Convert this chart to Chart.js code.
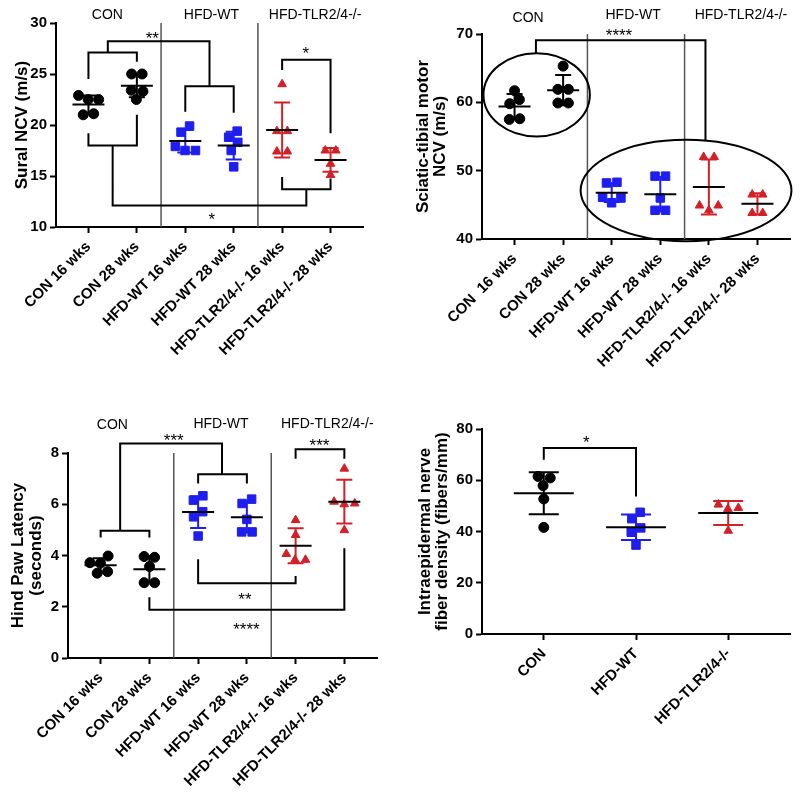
<!DOCTYPE html>
<html>
<head>
<meta charset="utf-8">
<script src="https://cdn.jsdelivr.net/npm/chart.js@4.4.1/dist/chart.umd.min.js"></script>
<style>
  html, body { margin: 0; padding: 0; background: #fff; }
  #wrap { position: relative; width: 800px; height: 798px; }
  canvas { position: absolute; }
</style>
</head>
<body>
<div id="wrap">
  <canvas id="sural" width="400" height="400" style="left:0;top:0;width:400px;height:400px"></canvas>
  <canvas id="sciatic" width="400" height="400" style="left:400px;top:0;width:400px;height:400px"></canvas>
  <canvas id="paw" width="400" height="398" style="left:0;top:400px;width:400px;height:398px"></canvas>
  <canvas id="fiber" width="400" height="398" style="left:400px;top:400px;width:400px;height:398px"></canvas>
</div>
<script>
const FONT = "'Liberation Sans', Arial, sans-serif";

// tick labels / categories
const weekGroups = ["CON 16 wks", "CON 28 wks", "HFD-WT 16 wks", "HFD-WT 28 wks", "HFD-TLR2/4-/- 16 wks", "HFD-TLR2/4-/- 28 wks"];
const weekGroupsSciatic = ["CON  16 wks", "CON 28 wks", "HFD-WT 16 wks", "HFD-WT 28 wks", "HFD-TLR2/4-/- 16 wks", "HFD-TLR2/4-/- 28 wks"];
const fiberGroups = ["CON", "HFD-WT", "HFD-TLR2/4-/-"];
const cohortNames = ["CON", "HFD-WT", "HFD-TLR2/4-/-"];

// values, one small array per group
const suralNCV = [
  [22.5, 22.9, 21.1, 21.0, 22.5],
  [25.0, 25.0, 23.4, 23.3, 22.5],
  [19.9, 19.3, 17.9, 17.5, 17.5],
  [18.8, 19.4, 18.3, 17.5, 15.9],
  [24.0, 19.4, 19.4, 17.4, 17.4],
  [17.5, 17.5, 16.2, 15.1]
];
const sciaticNCV = [
  [60.4, 61.7, 57.5, 57.6, 59.8],
  [65.3, 61.9, 61.9, 59.9, 59.9],
  [48.3, 48.2, 46.1, 46.0, 45.3],
  [49.2, 49.2, 46.0, 44.2, 44.2],
  [52.0, 52.0, 44.9, 44.9, 44.2],
  [46.5, 46.5, 43.8, 43.8]
];
const pawLatency = [
  [3.98, 3.72, 3.70, 3.31, 3.37],
  [3.93, 3.96, 3.57, 2.94, 2.94],
  [6.16, 6.33, 5.71, 5.51, 4.76],
  [6.03, 6.20, 5.41, 4.92, 4.92],
  [5.38, 4.80, 4.06, 3.83, 3.83],
  [7.39, 6.03, 6.00, 6.10, 4.99]
];
const fiberDensity = [
  [61.5, 60.9, 57.9, 52.7, 41.6],
  [47.5, 45.0, 41.4, 39.7, 34.7],
  [49.2, 48.8, 50.5, 40.3]
];

const BLACK = '#000000', BLUE = '#1e1ef0', RED = '#d41f26';
const sixColors = [BLACK, BLACK, BLUE, BLUE, RED, RED];
const sixShapes = ['circle', 'circle', 'rect', 'rect', 'triangle', 'triangle'];
const threeColors = [BLACK, BLUE, RED];
const threeShapes = ['circle', 'rect', 'triangle'];
const radiusFor = { circle: 5, rect: 6, triangle: 5 };

const mean = a => a.reduce((s, v) => s + v, 0) / a.length;
const sd = a => { const m = mean(a); return Math.sqrt(a.reduce((s, v) => s + (v - m) * (v - m), 0) / (a.length - 1)); };

// simple beeswarm: spread overlapping points sideways (in pixels), return offsets in x units
function swarm(vals, pxPerY, pxPerX, D) {
  const order = vals.map((v, i) => i).sort((a, b) => vals[a] - vals[b]);
  const placed = [];
  order.forEach(i => {
    const y = vals[i] * pxPerY;
    const cands = [0];
    placed.forEach(p => {
      const dy = Math.abs(p.y - y);
      if (dy < D) { const w = Math.sqrt(D * D - dy * dy); cands.push(p.x + w, p.x - w); }
    });
    cands.sort((a, b) => Math.abs(a) - Math.abs(b) || b - a);
    const x = cands.find(c => placed.every(p => Math.hypot(p.x - c, p.y - y) >= D - 1e-6));
    placed.push({ i, x, y });
  });
  // centre each touching cluster
  const parent = placed.map((p, k) => k);
  const find = k => parent[k] === k ? k : (parent[k] = find(parent[k]));
  placed.forEach((p, a) => placed.forEach((q, b) => {
    if (a < b && Math.hypot(p.x - q.x, p.y - q.y) < D + 0.5) parent[find(a)] = find(b);
  }));
  const sums = {};
  placed.forEach((p, k) => { const r = find(k); sums[r] = sums[r] || [0, 0]; sums[r][0] += p.x; sums[r][1]++; });
  const off = new Array(vals.length).fill(0);
  placed.forEach((p, k) => { const s = sums[find(k)]; off[p.i] = (p.x - s[0] / s[1]) / pxPerX; });
  return off;
}

const statsPlugin = {
  id: 'stats',
  beforeDatasetsDraw(chart, args, o) {
    const { ctx, scales: { x, y } } = chart;
    ctx.save();
    ctx.strokeStyle = '#555';
    ctx.lineWidth = 1.5;
    (o.separators || []).forEach(v => {
      const px = x.getPixelForValue(v);
      ctx.beginPath(); ctx.moveTo(px, y.top); ctx.lineTo(px, y.bottom); ctx.stroke();
    });
    ctx.restore();
  },
  afterDatasetsDraw(chart, args, o) {
    const { ctx, scales: { x, y } } = chart;
    ctx.save();
    ctx.lineWidth = 2;
    ctx.lineCap = 'butt';
    // mean and SD
    o.values.forEach((vals, i) => {
      const m = mean(vals), s = sd(vals);
      const cx = x.getPixelForValue(i);
      const yt = y.getPixelForValue(m + s), yb = y.getPixelForValue(m - s), ym = y.getPixelForValue(m);
      ctx.strokeStyle = o.colors[i];
      ctx.beginPath();
      ctx.moveTo(cx, yt); ctx.lineTo(cx, yb);
      ctx.moveTo(cx - o.capHalf, yt); ctx.lineTo(cx + o.capHalf, yt);
      ctx.moveTo(cx - o.capHalf, yb); ctx.lineTo(cx + o.capHalf, yb);
      ctx.stroke();
      ctx.strokeStyle = BLACK;
      ctx.beginPath(); ctx.moveTo(cx - o.meanHalf, ym); ctx.lineTo(cx + o.meanHalf, ym); ctx.stroke();
    });
    // significance brackets
    ctx.strokeStyle = BLACK;
    ctx.lineJoin = 'miter';
    (o.brackets || []).forEach(pts => {
      ctx.beginPath();
      pts.forEach(([vx, vy], k) => {
        const px = x.getPixelForValue(vx), py = y.getPixelForValue(vy);
        if (k === 0) ctx.moveTo(px, py); else ctx.lineTo(px, py);
      });
      ctx.stroke();
    });
    (o.ellipses || []).forEach(([ex, ey, rx, ry]) => {
      const cx = x.getPixelForValue(ex), cy = y.getPixelForValue(ey);
      const rpx = Math.abs(x.getPixelForValue(ex + rx) - cx), rpy = Math.abs(y.getPixelForValue(ey + ry) - cy);
      ctx.beginPath(); ctx.ellipse(cx, cy, rpx, rpy, 0, 0, Math.PI * 2); ctx.stroke();
    });
    ctx.fillStyle = BLACK;
    ctx.textAlign = 'center';
    ctx.font = '17px ' + FONT;
    ctx.textBaseline = 'alphabetic';
    (o.stars || []).forEach(([sx, sy, txt]) => {
      ctx.fillText(txt, x.getPixelForValue(sx), y.getPixelForValue(sy) + 0.57 * 17);
    });
    ctx.font = '14px ' + FONT;
    ctx.textBaseline = 'middle';
    (o.headers || []).forEach(([hx, hy, k]) => {
      ctx.fillText(cohortNames[k], x.getPixelForValue(hx), y.getPixelForValue(hy));
    });
    ctx.restore();
  }
};

function makeChart(id, cfg) {
  const canvas = document.getElementById(id);
  const W = canvas.width, H = canvas.height;
  const P = cfg.plot;
  const n = cfg.labels.length;
  const xmin = -0.67, xmax = n - 0.33;
  const pxPerX = (P.right - P.left) / (xmax - xmin);
  const pxPerY = (P.bottom - P.top) / (cfg.ymax - cfg.ymin);
  const datasets = cfg.values.map((vals, i) => {
    const shape = cfg.shapes[i];
    const off = swarm(vals, pxPerY, pxPerX, 10.5);
    return {
      data: vals.map((v, k) => ({ x: i + off[k], y: v })),
      pointStyle: shape,
      pointRadius: radiusFor[shape],
      pointHoverRadius: radiusFor[shape],
      backgroundColor: cfg.colors[i],
      borderColor: cfg.colors[i],
      borderWidth: 1
    };
  });
  const axisGrid = { display: true, drawOnChartArea: false, drawTicks: true, tickLength: 6, tickWidth: 2, tickColor: BLACK };
  const axisBorder = { display: true, color: BLACK, width: 2 };
  return new Chart(canvas, {
    type: 'scatter',
    data: { datasets },
    options: {
      responsive: false,
      animation: false,
      layout: { padding: { top: P.top, right: W - P.right, left: 0, bottom: 0 } },
      plugins: {
        legend: { display: false },
        tooltip: { enabled: false },
        stats: {
          values: cfg.values, colors: cfg.colors,
          separators: cfg.separators, brackets: cfg.brackets, stars: cfg.stars,
          headers: cfg.headers, ellipses: cfg.ellipses,
          meanHalf: cfg.meanHalf, capHalf: cfg.capHalf
        }
      },
      scales: {
        x: {
          type: 'linear', min: xmin, max: xmax,
          afterBuildTicks: s => { s.ticks = cfg.labels.map((_, i) => ({ value: i })); },
          afterFit: s => { s.height = H - P.bottom; },
          ticks: {
            callback: v => cfg.labels[v],
            minRotation: 45, maxRotation: 45, autoSkip: false,
            color: BLACK, padding: 5,
            font: { family: FONT, size: 15, weight: 'bold' }
          },
          grid: axisGrid, border: axisBorder
        },
        y: {
          min: cfg.ymin, max: cfg.ymax,
          afterFit: s => { s.width = P.left; },
          ticks: { stepSize: cfg.step, color: BLACK, padding: 3, font: { family: FONT, size: 15, weight: 'bold' } },
          title: {
            display: true, text: cfg.title, color: BLACK,
            font: { family: FONT, size: 17, weight: 'bold', lineHeight: 1.05 },
            padding: { top: cfg.titlePad, bottom: 0 }
          },
          grid: axisGrid, border: axisBorder
        }
      }
    },
    plugins: [statsPlugin]
  });
}

makeChart('sural', {
  plot: { left: 56, top: 23, right: 363, bottom: 227 },
  labels: weekGroups, values: suralNCV, colors: sixColors, shapes: sixShapes,
  ymin: 10, ymax: 30, step: 5, title: 'Sural NCV (m/s)', titlePad: 13.5,
  separators: [1.5, 3.5],
  headers: [[0.39, 30.8, 0], [2.54, 30.8, 1], [4.68, 30.8, 2]],
  brackets: [
    [[0, 24.5], [0, 27.1], [1, 27.1], [1, 26.2]],
    [[0.4, 27.1], [0.4, 28.2], [2.5, 28.2], [2.5, 23.8]],
    [[2, 21.3], [2, 23.8], [3, 23.8], [3, 21.2]],
    [[4, 25.4], [4, 26.4], [5, 26.4], [5, 19.2]],
    [[0, 19.2], [0, 18.0], [1, 18.0], [1, 21.0]],
    [[0.5, 18.0], [0.5, 12.1], [4.5, 12.1], [4.5, 13.7]],
    [[4, 14.9], [4, 13.7], [5, 13.7], [5, 14.75]]
  ],
  stars: [[1.32, 28.85, '**'], [4.49, 27.4, '*'], [2.55, 11.17, '*']],
  meanHalf: 16, capHalf: 8
});

makeChart('sciatic', {
  plot: { left: 82, top: 34, right: 390, bottom: 239 },
  labels: weekGroupsSciatic, values: sciaticNCV, colors: sixColors, shapes: sixShapes,
  ymin: 40, ymax: 70, step: 10, title: ['Sciatic-tibial motor', 'NCV (m/s)'], titlePad: 14,
  separators: [1.5, 3.5],
  headers: [[0.28, 72.3, 0], [2.44, 72.8, 1], [4.66, 72.8, 2]],
  brackets: [
    [[0.44, 67.2], [0.44, 69.1], [3.93, 69.1], [3.93, 54.5]]
  ],
  ellipses: [[0.455, 61.1, 1.095, 6.1], [3.53, 47.1, 2.17, 7.42]],
  stars: [[2.15, 70.4, '****']],
  meanHalf: 16, capHalf: 8
});

makeChart('paw', {
  plot: { left: 68, top: 53, right: 377, bottom: 258 },
  labels: weekGroups, values: pawLatency, colors: sixColors, shapes: sixShapes,
  ymin: 0, ymax: 8, step: 2, title: ['Hind Paw Latency', '(seconds)'], titlePad: 9.4,
  separators: [1.5, 3.5],
  headers: [[0.24, 9.08, 0], [2.47, 9.14, 1], [4.65, 9.14, 2]],
  brackets: [
    [[0, 4.7], [0, 4.97], [1, 4.97], [1, 4.7]],
    [[0.4, 4.97], [0.4, 8.37], [2.49, 8.37], [2.49, 7.17]],
    [[2, 6.81], [2, 7.17], [3, 7.17], [3, 6.81]],
    [[4, 7.78], [4, 8.15], [5, 8.15], [5, 7.78]],
    [[2, 3.85], [2, 2.92], [4, 2.92], [4, 3.2]],
    [[1, 2.37], [1, 1.88], [5, 1.88], [5, 4.28]]
  ],
  stars: [[1.5, 8.65, '***'], [4.49, 8.47, '***'], [2.96, 2.46, '**'], [2.99, 1.26, '****']],
  meanHalf: 16, capHalf: 8
});

makeChart('fiber', {
  plot: { left: 82, top: 29, right: 390, bottom: 234 },
  labels: fiberGroups, values: fiberDensity, colors: threeColors, shapes: threeShapes,
  ymin: 0, ymax: 80, step: 20, title: ['Intraepidermal nerve', 'fiber density (fibers/mm)'], titlePad: 16,
  separators: [],
  headers: [],
  brackets: [
    [[0, 68], [0, 72.6], [1, 72.6], [1, 53.7]]
  ],
  stars: [[0.46, 76.5, '*']],
  meanHalf: 30, capHalf: 15
});
</script>
</body>
</html>
